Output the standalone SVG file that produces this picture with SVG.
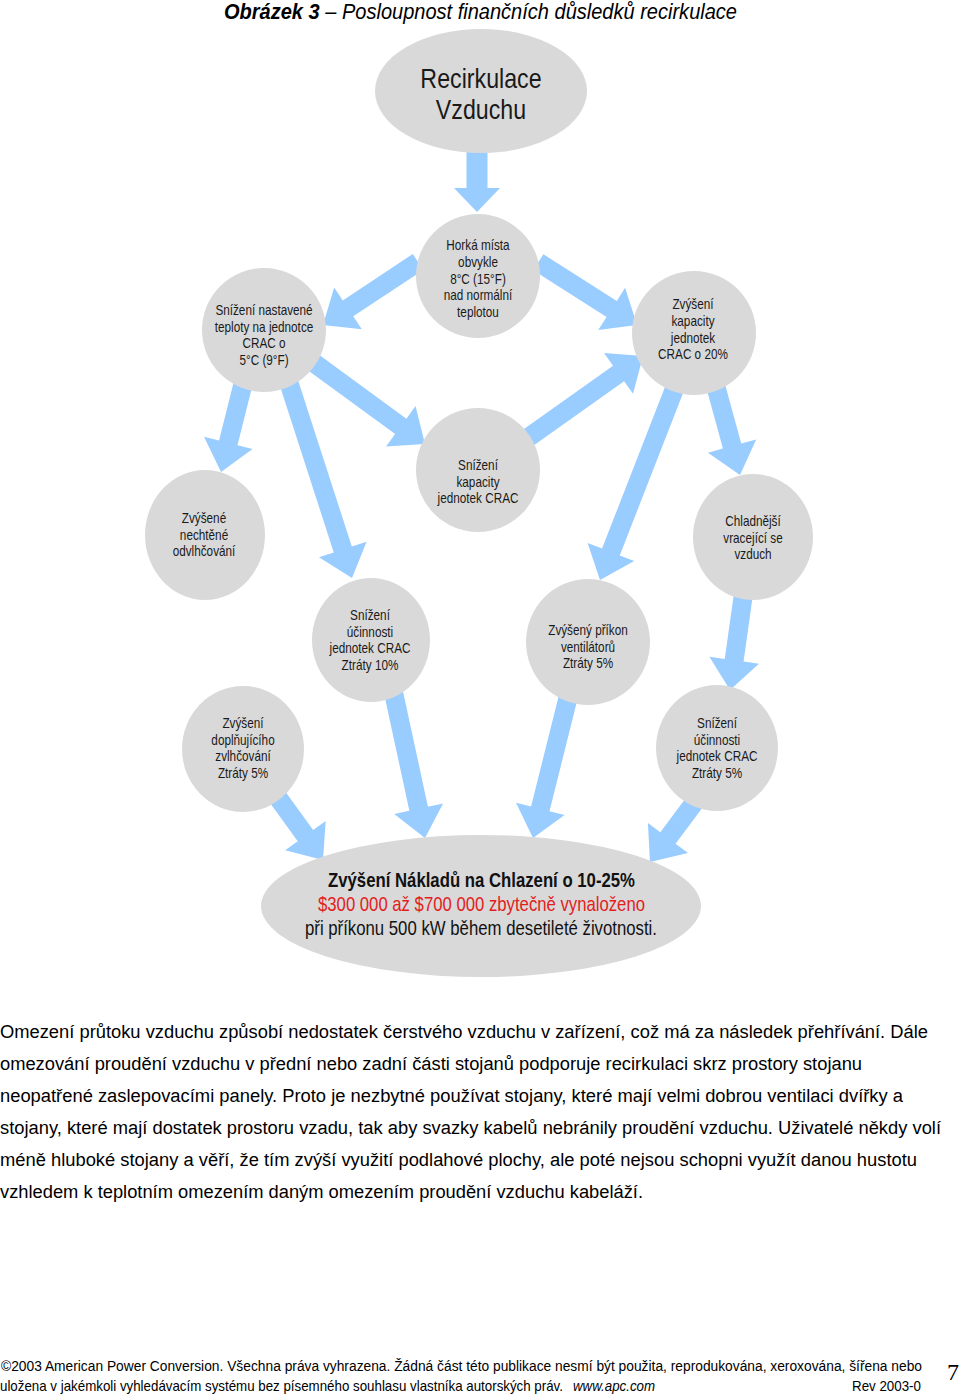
<svg xmlns="http://www.w3.org/2000/svg" width="960" height="1395" viewBox="0 0 960 1395">
<style>
.node{fill:#d9d9d9}
.arr{fill:#99ccff}
.nt{font-family:"Liberation Sans",Arial,sans-serif;font-size:14px;fill:#1a1a1a;text-anchor:middle}
.big{font-size:27px}
.body{font-family:"Liberation Sans",Arial,sans-serif;font-size:18px;fill:#000}
.foot{font-family:"Liberation Sans",Arial,sans-serif;font-size:14px;fill:#000}
</style>
<rect x="0" y="0" width="960" height="1395" fill="#fff"/>
<text x="224" y="19" textLength="513" lengthAdjust="spacingAndGlyphs" font-family="Liberation Sans, Arial, sans-serif" font-size="22" font-style="italic" fill="#000"><tspan font-weight="bold">Obrázek 3</tspan> – Posloupnost finančních důsledků recirkulace</text>

<g id="connectors">
  <polygon class="arr" points="466.5,150 487.5,150 487.5,188 500,188 477,212 454,188 466.5,188"/>
  <polygon class="arr" transform="translate(323,325) rotate(146.45)" points="-114,-9.5 -30,-9.5 -30,-25 0,0 -30,25 -30,9.5 -114,9.5"/>
  <polygon class="arr" transform="translate(637,325) rotate(32.47)" points="-117,-9.5 -30,-9.5 -30,-25 0,0 -30,25 -30,9.5 -117,9.5"/>
  <polygon class="arr" transform="translate(221,472) rotate(104.04)" points="-95,-9.5 -30,-9.5 -30,-25 0,0 -30,25 -30,9.5 -95,9.5"/>
  <polygon class="arr" transform="translate(352,578) rotate(72.09)" points="-208,-9.5 -30,-9.5 -30,-25 0,0 -30,25 -30,9.5 -208,9.5"/>
  <polygon class="arr" transform="translate(425,444) rotate(36.15)" points="-142,-9.5 -30,-9.5 -30,-25 0,0 -30,25 -30,9.5 -142,9.5"/>
  <polygon class="arr" transform="translate(643,356) rotate(-35.45)" points="-145,-9.5 -30,-9.5 -30,-25 0,0 -30,25 -30,9.5 -145,9.5"/>
  <polygon class="arr" transform="translate(600,580) rotate(111.29)" points="-209,-9.5 -30,-9.5 -30,-25 0,0 -30,25 -30,9.5 -209,9.5"/>
  <polygon class="arr" transform="translate(740,475) rotate(74.7)" points="-98,-9.5 -30,-9.5 -30,-25 0,0 -30,25 -30,9.5 -98,9.5"/>
  <polygon class="arr" transform="translate(730,690) rotate(97.97)" points="-101,-9.5 -30,-9.5 -30,-25 0,0 -30,25 -30,9.5 -101,9.5"/>
  <polygon class="arr" transform="translate(323,860) rotate(54.13)" points="-80,-9.5 -30,-9.5 -30,-25 0,0 -30,25 -30,9.5 -80,9.5"/>
  <polygon class="arr" transform="translate(425,838) rotate(77.8)" points="-151,-9.5 -30,-9.5 -30,-25 0,0 -30,25 -30,9.5 -151,9.5"/>
  <polygon class="arr" transform="translate(533,838) rotate(104.04)" points="-152,-9.5 -30,-9.5 -30,-25 0,0 -30,25 -30,9.5 -152,9.5"/>
  <polygon class="arr" transform="translate(650,862) rotate(126.73)" points="-83,-9.5 -30,-9.5 -30,-25 0,0 -30,25 -30,9.5 -83,9.5"/>
</g>

<g id="n-recirkulace">
  <ellipse class="node" cx="481" cy="91" rx="106" ry="62"/>
  <g transform="translate(481,0) scale(0.86,1)">
    <text class="nt big" x="0" y="88">Recirkulace</text>
    <text class="nt big" x="0" y="119">Vzduchu</text>
  </g>
</g>

<g id="n-horka">
  <circle class="node" cx="478" cy="276" r="62"/>
  <g transform="translate(478,0) scale(0.84,1)">
    <text class="nt" x="0" y="250">Horká místa</text>
    <text class="nt" x="0" y="267">obvykle</text>
    <text class="nt" x="0" y="284">8°C (15°F)</text>
    <text class="nt" x="0" y="300">nad normální</text>
    <text class="nt" x="0" y="317">teplotou</text>
  </g>
</g>

<g id="n-snizeni-nastavene">
  <circle class="node" cx="264" cy="330" r="62"/>
  <g transform="translate(264,0) scale(0.84,1)">
    <text class="nt" x="0" y="315">Snížení nastavené</text>
    <text class="nt" x="0" y="332">teploty na jednotce</text>
    <text class="nt" x="0" y="348">CRAC o</text>
    <text class="nt" x="0" y="365">5°C (9°F)</text>
  </g>
</g>

<g id="n-zvyseni-kapacity">
  <circle class="node" cx="694" cy="333" r="62"/>
  <g transform="translate(693,0) scale(0.84,1)">
    <text class="nt" x="0" y="309">Zvýšení</text>
    <text class="nt" x="0" y="326">kapacity</text>
    <text class="nt" x="0" y="343">jednotek</text>
    <text class="nt" x="0" y="359">CRAC o 20%</text>
  </g>
</g>

<g id="n-snizeni-kapacity">
  <circle class="node" cx="478" cy="470" r="62"/>
  <g transform="translate(478,0) scale(0.84,1)">
    <text class="nt" x="0" y="470">Snížení</text>
    <text class="nt" x="0" y="487">kapacity</text>
    <text class="nt" x="0" y="503">jednotek CRAC</text>
  </g>
</g>

<g id="n-odvlhcovani">
  <ellipse class="node" cx="205" cy="535" rx="60" ry="65"/>
  <g transform="translate(204,0) scale(0.84,1)">
    <text class="nt" x="0" y="523">Zvýšené</text>
    <text class="nt" x="0" y="540">nechtěné</text>
    <text class="nt" x="0" y="556">odvlhčování</text>
  </g>
</g>

<g id="n-chladnejsi">
  <ellipse class="node" cx="753" cy="537" rx="60" ry="63"/>
  <g transform="translate(753,0) scale(0.84,1)">
    <text class="nt" x="0" y="526">Chladnější</text>
    <text class="nt" x="0" y="543">vracející se</text>
    <text class="nt" x="0" y="559">vzduch</text>
  </g>
</g>

<g id="n-ucinnost10">
  <ellipse class="node" cx="371" cy="640" rx="59" ry="62"/>
  <g transform="translate(370,0) scale(0.84,1)">
    <text class="nt" x="0" y="620">Snížení</text>
    <text class="nt" x="0" y="637">účinnosti</text>
    <text class="nt" x="0" y="653">jednotek CRAC</text>
    <text class="nt" x="0" y="670">Ztráty 10%</text>
  </g>
</g>

<g id="n-prikon">
  <ellipse class="node" cx="588" cy="642" rx="62" ry="63"/>
  <g transform="translate(588,0) scale(0.84,1)">
    <text class="nt" x="0" y="635">Zvýšený příkon</text>
    <text class="nt" x="0" y="652">ventilátorů</text>
    <text class="nt" x="0" y="668">Ztráty 5%</text>
  </g>
</g>

<g id="n-zvlhcovani">
  <ellipse class="node" cx="243" cy="749" rx="61" ry="63"/>
  <g transform="translate(243,0) scale(0.84,1)">
    <text class="nt" x="0" y="728">Zvýšení</text>
    <text class="nt" x="0" y="745">doplňujícího</text>
    <text class="nt" x="0" y="761">zvlhčování</text>
    <text class="nt" x="0" y="778">Ztráty 5%</text>
  </g>
</g>

<g id="n-ucinnost5">
  <ellipse class="node" cx="717" cy="748" rx="61" ry="63"/>
  <g transform="translate(717,0) scale(0.84,1)">
    <text class="nt" x="0" y="728">Snížení</text>
    <text class="nt" x="0" y="745">účinnosti</text>
    <text class="nt" x="0" y="761">jednotek CRAC</text>
    <text class="nt" x="0" y="778">Ztráty 5%</text>
  </g>
</g>

<g id="n-naklady">
  <ellipse class="node" cx="481" cy="906" rx="220" ry="71"/>
  <text x="328" y="887" textLength="307" lengthAdjust="spacingAndGlyphs" font-family="Liberation Sans, Arial, sans-serif" font-size="21" font-weight="bold" fill="#111">Zvýšení Nákladů na Chlazení o 10-25%</text>
  <text x="318" y="911" textLength="327" lengthAdjust="spacingAndGlyphs" font-family="Liberation Sans, Arial, sans-serif" font-size="21" fill="#e3211c">$300 000 až $700 000 zbytečně vynaloženo</text>
  <text x="305" y="935" textLength="352" lengthAdjust="spacingAndGlyphs" font-family="Liberation Sans, Arial, sans-serif" font-size="21" fill="#111">při příkonu 500 kW během desetileté životnosti.</text>
</g>

<g id="paragraph">
  <text class="body" x="0" y="1038" textLength="928" lengthAdjust="spacingAndGlyphs">Omezení průtoku vzduchu způsobí nedostatek čerstvého vzduchu v zařízení, což má za následek přehřívání. Dále</text>
  <text class="body" x="0" y="1070" textLength="862" lengthAdjust="spacingAndGlyphs">omezování proudění vzduchu v přední nebo zadní části stojanů podporuje recirkulaci skrz prostory stojanu</text>
  <text class="body" x="0" y="1102" textLength="903" lengthAdjust="spacingAndGlyphs">neopatřené zaslepovacími panely. Proto je nezbytné používat stojany, které mají velmi dobrou ventilaci dvířky a</text>
  <text class="body" x="0" y="1134" textLength="941" lengthAdjust="spacingAndGlyphs">stojany, které mají dostatek prostoru vzadu, tak aby svazky kabelů nebránily proudění vzduchu. Uživatelé někdy volí</text>
  <text class="body" x="0" y="1166" textLength="917" lengthAdjust="spacingAndGlyphs">méně hluboké stojany a věří, že tím zvýší využití podlahové plochy, ale poté nejsou schopni využít danou hustotu</text>
  <text class="body" x="0" y="1198" textLength="643" lengthAdjust="spacingAndGlyphs">vzhledem k teplotním omezením daným omezením proudění vzduchu kabeláží.</text>
</g>

<g id="footer">
  <text class="foot" x="1" y="1371" textLength="921" lengthAdjust="spacingAndGlyphs">©2003 American Power Conversion. Všechna práva vyhrazena. Žádná část této publikace nesmí být použita, reprodukována, xeroxována, šířena nebo</text>
  <text class="foot" x="0" y="1391" font-size="12.5" style="font-size:12.6px" textLength="563" lengthAdjust="spacingAndGlyphs" transform="translate(0,1391) scale(1,1.11) translate(0,-1391)">uložena v jakémkoli vyhledávacím systému bez písemného souhlasu vlastníka autorských práv.</text>
  <text class="foot" x="573" y="1391" textLength="82" lengthAdjust="spacingAndGlyphs" font-style="italic">www.apc.com</text>
  <text class="foot" x="852" y="1391" textLength="69" lengthAdjust="spacingAndGlyphs">Rev 2003-0</text>
  <text x="947" y="1380" font-family="Liberation Serif, Times New Roman, serif" font-size="24" fill="#000">7</text>
</g>
</svg>
